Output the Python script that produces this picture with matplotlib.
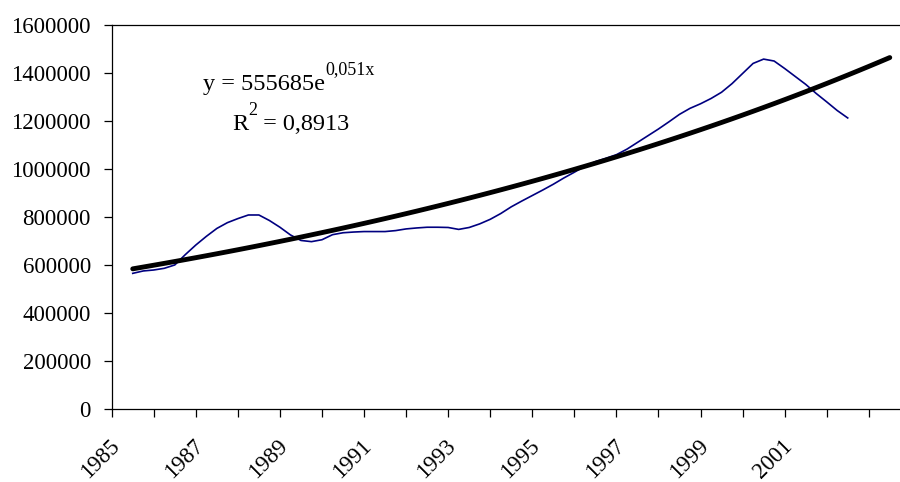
import numpy as np
import matplotlib
matplotlib.use('Agg')
import matplotlib.pyplot as plt
from matplotlib.transforms import ScaledTranslation

plt.rcParams['font.family'] = ['Liberation Serif', 'DejaVu Serif']

# categories (years), labels shown every second year
years = list(range(1985, 2004))
label_years = [1985, 1987, 1989, 1991, 1993, 1995, 1997, 1999, 2001]

# quarterly series, 1985 .. 2002
values = [566000, 576000, 580000, 587000, 601000, 644000, 684000, 720000,
          753000, 777000, 794000, 809000, 809000, 786000, 758000, 726000,
          703000, 698000, 706000, 727000, 735000, 738000, 740000, 740000,
          740000, 744000, 751000, 755000, 758000, 758000, 757000, 749000,
          757000, 772000, 791000, 815000, 843000, 867000, 890000, 913000,
          937000, 963000, 987000, 1012000, 1031000, 1045000, 1060000, 1083000,
          1111000, 1139000, 1167000, 1197000, 1228000, 1253000, 1272000, 1294000,
          1320000, 1356000, 1398000, 1440000, 1458000, 1450000, 1419000, 1386000,
          1353000, 1315000, 1280000, 1244000, 1213000]

# exponential trend shown on the chart: y = a * e^(b*x), x = 1 for 1985
trend_a = 555685
trend_b = 0.051

x = years[0] + np.arange(len(values)) / 4
xt = np.arange(years[0], years[-1] + 0.01, 0.25)
yt = trend_a * np.exp(trend_b * (xt - years[0] + 1))

fig = plt.figure(figsize=(9, 4.82), dpi=100)
ax = fig.add_axes([111.7 / 900, 1 - 409.3 / 482, 799.1 / 900, 384.3 / 482])

ax.plot(x, values, color='#000080', lw=1.2)
ax.plot(xt, yt, color='black', lw=3.5, solid_capstyle='round')

ax.set_xlim(years[0] - 0.5, years[-1] + 0.5)
ax.set_ylim(0, 1600000)
ax.set_yticks(range(0, 1600001, 200000))
ax.set_yticklabels([str(v) for v in range(0, 1600001, 200000)])

ax.set_xticks([y - 0.5 for y in years] + [years[-1] + 0.5])
ax.set_xticklabels([])
ax.set_xticks(label_years, minor=True)
ax.set_xticklabels([str(y) for y in label_years], minor=True,
                   rotation=45, ha='right', va='top')
ax.tick_params(axis='x', which='minor', length=0, pad=19, labelsize=16.5)
ax.tick_params(axis='x', which='major', length=5.5, width=0.9, direction='out')
ax.tick_params(axis='y', length=5.8, width=0.9, pad=9.2, labelsize=16.5)

off = ScaledTranslation(-9 / 100, 0, fig.dpi_scale_trans)
for lab in ax.get_xticklabels(minor=True):
    lab.set_transform(lab.get_transform() + off)

for s in ax.spines.values():
    s.set_linewidth(0.9)

# trend equation
eq = ax.text(0.1143, 0.832, 'y = 555685e', transform=ax.transAxes,
             ha='left', va='baseline', fontsize=17.5)
ax.annotate('0,051x', xy=(1.0, 0.871), xycoords=(eq, ax.transAxes),
            ha='left', va='baseline', fontsize=13)
r2 = ax.text(0.1508, 0.728, 'R', transform=ax.transAxes,
             ha='left', va='baseline', fontsize=17.5)
sq = ax.annotate('2', xy=(1.0, 0.766), xycoords=(r2, ax.transAxes),
                 ha='left', va='baseline', fontsize=13)
ax.annotate(' = 0,8913', xy=(1.0, 0.728), xycoords=(sq, ax.transAxes),
            ha='left', va='baseline', fontsize=17.5)

fig.savefig('out.png', dpi=100)
